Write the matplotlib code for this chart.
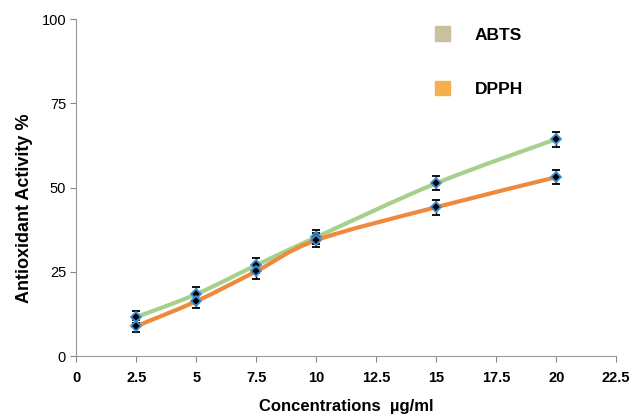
import numpy as np
import matplotlib.pyplot as plt
from matplotlib.path import Path
from matplotlib.patches import PathPatch, Patch

plt.rcParams['font.family'] = ['Liberation Sans', 'DejaVu Sans']

conc = [2.5, 5, 7.5, 10, 15, 20]
abts = [11.6, 18.4, 27.0, 35.3, 51.3, 64.4]
dpph = [8.9, 16.3, 25.2, 34.4, 44.2, 53.1]
abts_err = [1.8, 2.0, 2.2, 2.0, 2.0, 2.2]
dpph_err = [1.8, 2.0, 2.2, 2.0, 2.2, 2.0]
xticks = [0, 2.5, 5, 7.5, 10, 12.5, 15, 17.5, 20, 22.5]
yticks = [0, 25, 50, 75, 100]


def smooth_path(x, y, t=1/6):
    # excel-like smoothed line drawn as cubic bezier through the points
    x = np.asarray(x, float); y = np.asarray(y, float)
    n = len(x)
    verts = [(x[0], y[0])]
    codes = [Path.MOVETO]
    for i in range(n - 1):
        x0, y0 = (x[i-1], y[i-1]) if i > 0 else (x[i], y[i])
        x3, y3 = (x[i+2], y[i+2]) if i + 2 < n else (x[i+1], y[i+1])
        c1 = (x[i] + (x[i+1] - x0) * t, y[i] + (y[i+1] - y0) * t)
        c2 = (x[i+1] - (x3 - x[i]) * t, y[i+1] - (y3 - y[i]) * t)
        verts += [c1, c2, (x[i+1], y[i+1])]
        codes += [Path.CURVE4] * 3
    return Path(verts, codes)


fig = plt.figure(figsize=(6.32, 4.16), dpi=100)
ax = fig.add_axes([0.121, 0.144, 0.854, 0.810])

ax.add_patch(PathPatch(smooth_path(conc, abts), fill=False, ec='#a8d08d', lw=3, zorder=2))
ax.add_patch(PathPatch(smooth_path(conc, dpph), fill=False, ec='#ee8a3e', lw=3, zorder=2))

for vals, err in [(abts, abts_err), (dpph, dpph_err)]:
    ax.errorbar(conc, vals, yerr=err, fmt='D', ms=5, mfc='black', mec='#3d8fd1',
                mew=1.3, ecolor='black', elinewidth=1, capsize=3, capthick=1, zorder=3)

ax.set_xlim(0, 22.5)
ax.set_ylim(0, 100)
ax.set_xticks(xticks)
ax.set_xticklabels([f'{v:g}' for v in xticks], fontweight='bold', fontsize=10.5)
ax.set_yticks(yticks)
ax.set_yticklabels([str(v) for v in yticks], fontsize=10.5)
ax.tick_params(colors='#888888', labelcolor='black', direction='out', length=4)
ax.tick_params(axis='x', pad=7)
for s in ['top', 'right']:
    ax.spines[s].set_visible(False)
for s in ['left', 'bottom']:
    ax.spines[s].set_color('#999999')

ax.set_xlabel('Concentrations  µg/ml', fontweight='bold', fontsize=12, labelpad=10)
ax.set_ylabel('Antioxidant Activity %', fontweight='bold', fontsize=13)
ax.yaxis.set_label_coords(-0.08, 0.44)

handles = [Patch(color='#cbbf9f'), Patch(color='#f3b04d')]
ax.legend(handles, ['ABTS', 'DPPH'], loc='upper left', bbox_to_anchor=(0.635, 1.025),
          frameon=False, handlelength=0.9, handleheight=0.9, labelspacing=2.2,
          handletextpad=1.4, prop={'weight': 'bold', 'size': 12.5})

fig.savefig('out.png', dpi=100)
